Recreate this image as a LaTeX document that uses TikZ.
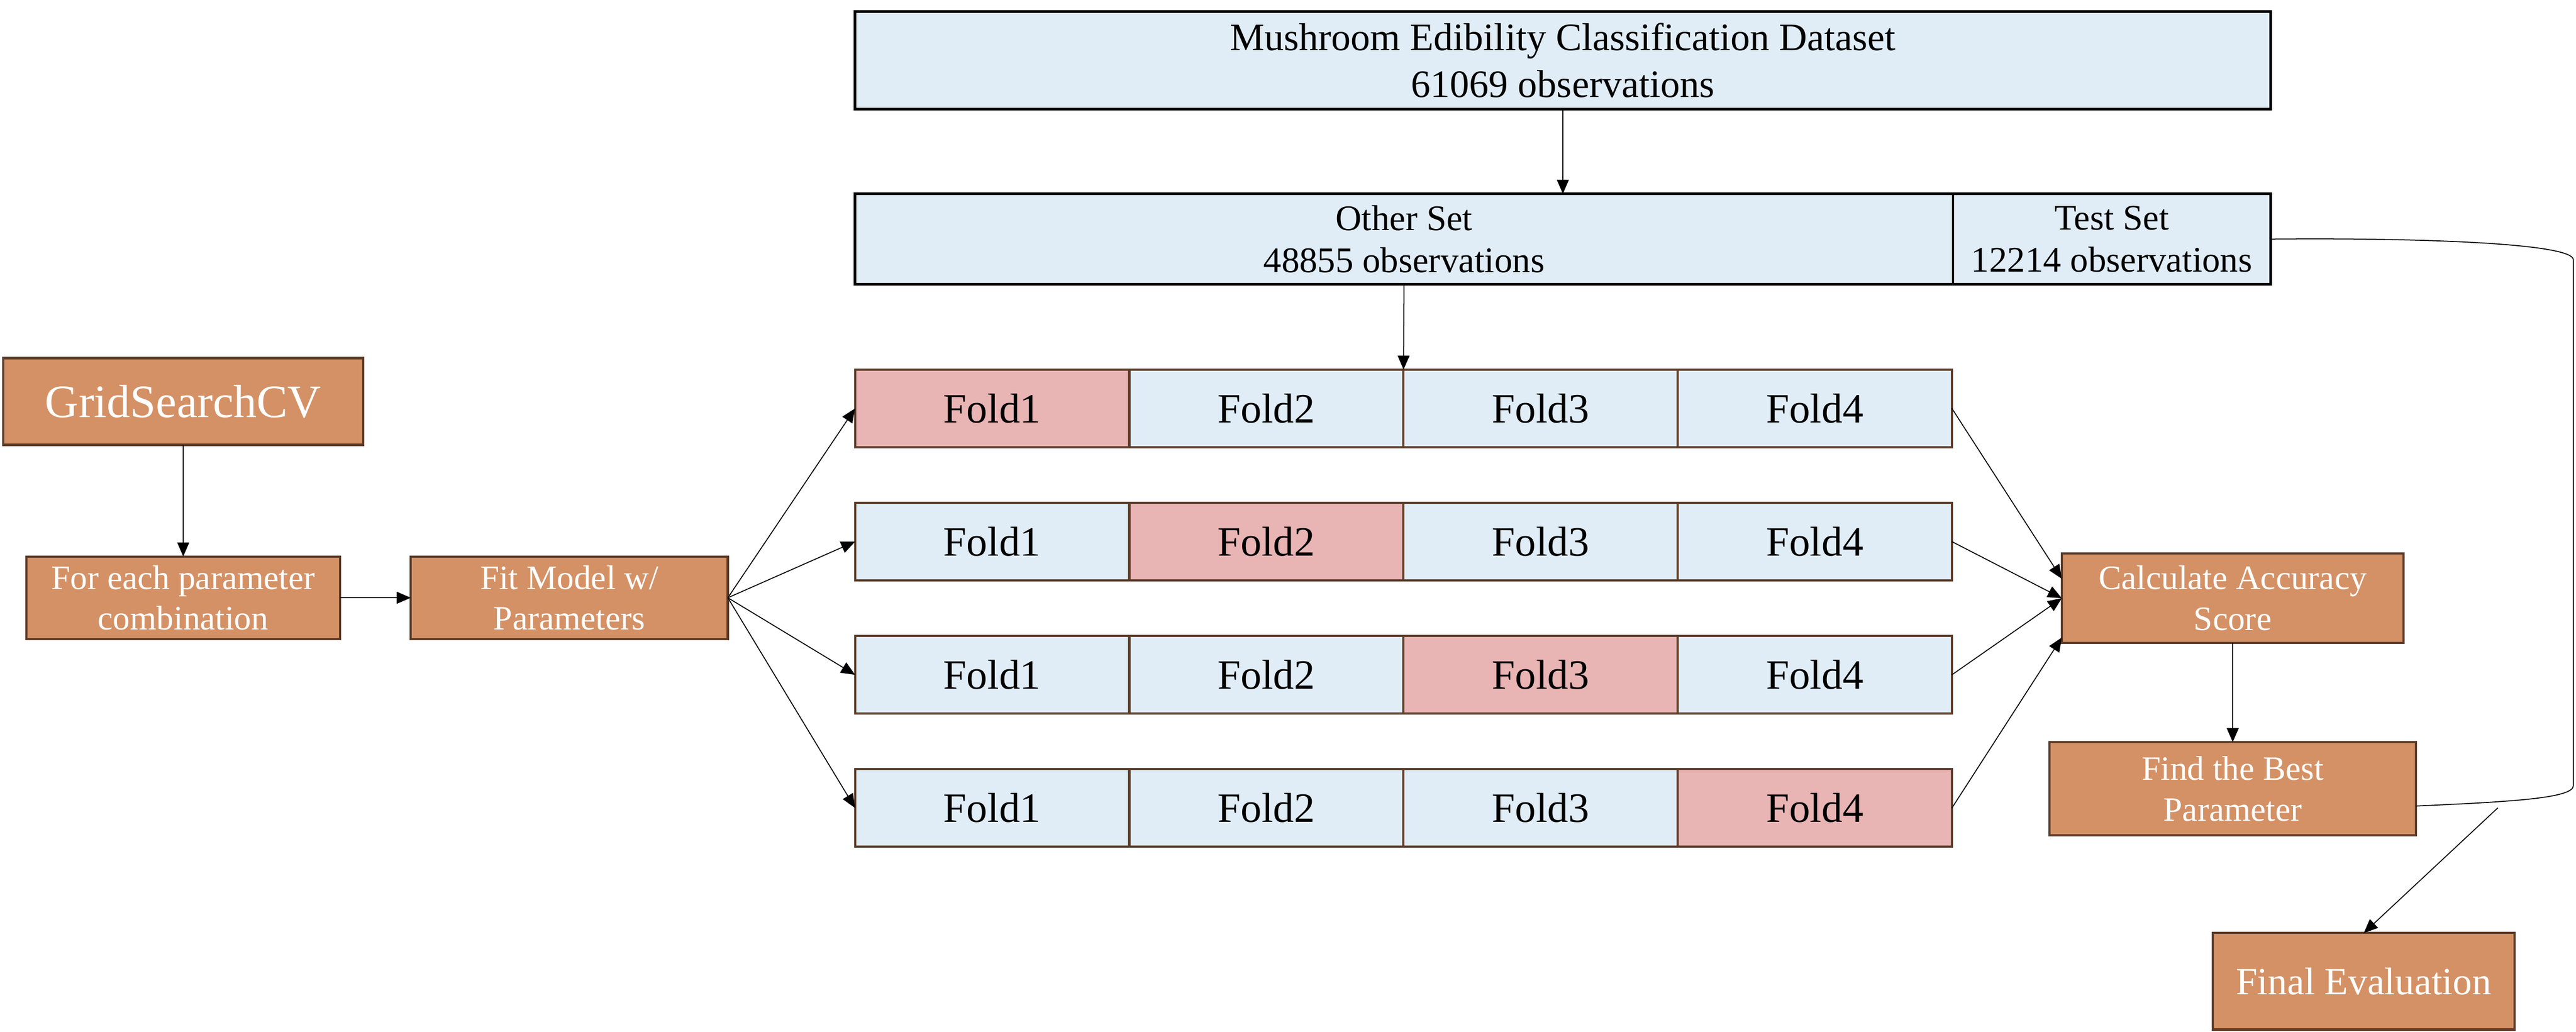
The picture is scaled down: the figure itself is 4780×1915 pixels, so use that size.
\documentclass[tikz,border=0pt]{standalone}
\usepackage{fontspec}
\setmainfont{Liberation Serif}
\usetikzlibrary{positioning, arrows.meta}

\definecolor{setblue}{HTML}{E0EDF7}
\definecolor{foldpink}{HTML}{E8B4B4}
\definecolor{steporange}{HTML}{D49165}
\definecolor{edgebrown}{HTML}{5C3D2B}

\begin{document}
\begin{tikzpicture}
	[x=0.01cm, y=-0.01cm,
	 >={Triangle[length=0.26cm, width=0.22cm]},
	 line width=0.5pt,
	 align=center,
	 setbox/.style={draw=black, line width=1.3pt, fill=setblue, inner sep=0pt, outer sep=0pt, font=\fontsize{19}{22}\selectfont},
	 foldbox/.style={draw=edgebrown, line width=1.2pt, fill=setblue, inner sep=0pt, outer sep=0pt, minimum width=5.085cm, minimum height=1.44cm, font=\fontsize{22}{26}\selectfont},
	 validbox/.style={foldbox, fill=foldpink},
	 stepbox/.style={draw=edgebrown, line width=1.2pt, fill=steporange, text=white, inner sep=0pt, outer sep=0pt, font=\fontsize{18}{21.5}\selectfont}]

	\useasboundingbox (0,0) rectangle (4780,1915);

	% data split
	\node[setbox, minimum width=26.25cm, minimum height=1.81cm, font=\fontsize{20.5}{24.5}\selectfont] (data) at (2900,112) {Mushroom Edibility Classification Dataset\\61069 observations};
	\node[setbox, minimum width=20.36cm, minimum height=1.68cm, below=1.57cm of data.south west, anchor=north west] (other) {Other Set\\48855 observations};
	\node[setbox, minimum width=5.89cm, minimum height=1.68cm, right=0pt of other] (test) {Test Set\\12214 observations};

	% folds
	\node[validbox, below=1.58cm of other.south west, anchor=north west] (f11) {Fold1};
	\node[foldbox, right=0pt of f11] (f12) {Fold2};
	\node[foldbox, right=0pt of f12] (f13) {Fold3};
	\node[foldbox, right=0pt of f13] (f14) {Fold4};

	\node[foldbox, below=1.03cm of f11] (f21) {Fold1};
	\node[validbox, right=0pt of f21] (f22) {Fold2};
	\node[foldbox, right=0pt of f22] (f23) {Fold3};
	\node[foldbox, right=0pt of f23] (f24) {Fold4};

	\node[foldbox, below=1.03cm of f21] (f31) {Fold1};
	\node[foldbox, right=0pt of f31] (f32) {Fold2};
	\node[validbox, right=0pt of f32] (f33) {Fold3};
	\node[foldbox, right=0pt of f33] (f34) {Fold4};

	\node[foldbox, below=1.03cm of f31] (f41) {Fold1};
	\node[foldbox, right=0pt of f41] (f42) {Fold2};
	\node[foldbox, right=0pt of f42] (f43) {Fold3};
	\node[validbox, right=0pt of f43] (f44) {Fold4};

	% search steps
	\node[stepbox, minimum width=6.68cm, minimum height=1.61cm, font=\fontsize{24.5}{28}\selectfont] (grid) at (340,745) {GridSearchCV};
	\node[stepbox, minimum width=5.82cm, minimum height=1.53cm, below=2.07cm of grid] (param) {For each parameter\\combination};
	\node[stepbox, minimum width=5.88cm, minimum height=1.53cm, right=1.31cm of param] (fit) {Fit Model w/\\Parameters};

	\node[stepbox, minimum width=6.34cm, minimum height=1.66cm] (score) at (4143,1110) {Calculate Accuracy\\Score};
	\node[stepbox, minimum width=6.79cm, minimum height=1.73cm, below=1.84cm of score] (best) {Find the Best\\Parameter};
	\node[stepbox, minimum width=5.60cm, minimum height=1.79cm, font=\fontsize{20.3}{23}\selectfont, below=1.81cm of best, xshift=2.43cm] (final) {Final Evaluation};

	\coordinate (bendtop) at (4775,482);
	\coordinate (bendlow) at (4775,1458);
	\coordinate (split) at (4635,1499);

	\draw[->] (data.south) -- (other.north -| data.south);
	\draw[->] (other.south) -- (f12.north east);
	\draw[->] (grid) -- (param);
	\draw[->] (param) -- (fit);
	\path[->]
	(fit.east) edge (f11.west)
	(fit.east) edge (f21.west)
	(fit.east) edge (f31.west)
	(fit.east) edge (f41.west)
	(f14.east) edge ([yshift=0.36cm]score.west)
	(f24.east) edge (score.west)
	(f34.east) edge (score.west)
	(f44.east) edge ([yshift=0.1cm]score.south west)
	(score) edge (best)
	;
	\draw[->] (split) -- (final.north);
	\draw (test.east) .. controls (4500,441) and (4775,452) .. (bendtop) -- (bendlow)
	      .. controls (4775,1482) and (4650,1488) .. ([yshift=-0.32cm]best.east);
\end{tikzpicture}
\end{document}
